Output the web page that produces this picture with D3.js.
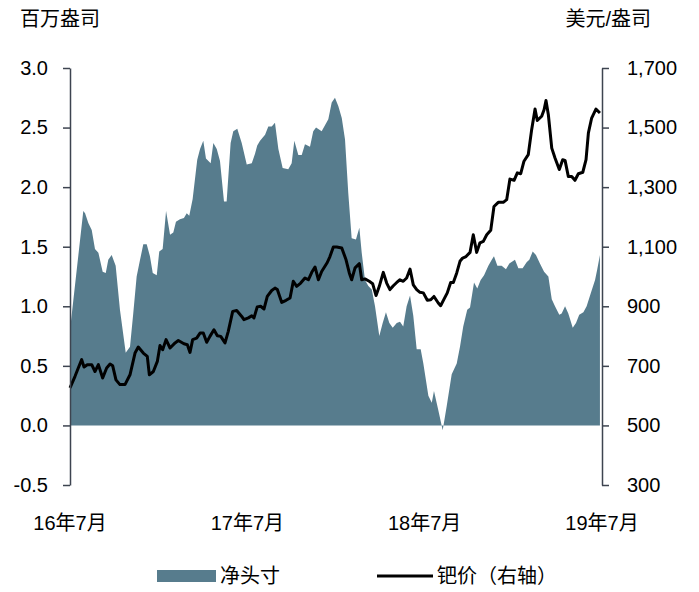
<!DOCTYPE html>
<html>
<head>
<meta charset="utf-8">
<script src="https://cdn.jsdelivr.net/npm/d3@7"></script>
<style>
  body { margin: 0; background: #fff; }
  text { font-family: "Liberation Sans", "Noto Sans CJK SC", sans-serif; }
</style>
</head>
<body>
<div id="chart"></div>
<script>
// months since 2016-07, net position (million oz)
const netPosition = [
  [0.00, 0.80], [0.90, 1.80], [1.02, 1.78], [1.24, 1.70], [1.47, 1.64], [1.69, 1.48],
  [1.92, 1.45], [2.21, 1.29], [2.42, 1.28], [2.59, 1.39], [2.82, 1.43], [3.09, 1.34],
  [3.38, 0.97], [3.77, 0.61], [4.06, 0.66], [4.28, 0.94], [4.51, 1.25], [4.74, 1.39],
  [4.96, 1.52], [5.19, 1.52], [5.41, 1.42], [5.60, 1.28], [5.87, 1.26], [6.04, 1.46],
  [6.27, 1.48], [6.50, 1.80], [6.77, 1.60], [6.99, 1.62], [7.17, 1.71], [7.44, 1.73],
  [7.71, 1.74], [7.90, 1.78], [8.07, 1.76], [8.30, 1.90], [8.61, 2.23], [8.80, 2.32],
  [9.02, 2.39], [9.20, 2.24], [9.52, 2.20], [9.70, 2.37], [9.93, 2.32], [10.15, 2.22],
  [10.42, 1.88], [10.60, 1.88], [10.87, 2.37], [11.05, 2.47], [11.32, 2.49], [11.62, 2.37],
  [11.96, 2.19], [12.30, 2.20], [12.52, 2.28], [12.67, 2.35], [12.86, 2.39], [13.20, 2.44],
  [13.42, 2.51], [13.65, 2.51], [13.87, 2.54], [14.10, 2.32], [14.39, 2.16], [14.77, 2.15],
  [15.00, 2.20], [15.18, 2.39], [15.45, 2.27], [15.68, 2.27], [15.90, 2.36], [16.24, 2.34],
  [16.46, 2.47], [16.65, 2.50], [17.03, 2.47], [17.48, 2.57], [17.71, 2.71], [17.93, 2.75],
  [18.16, 2.68], [18.39, 2.58], [18.61, 2.40], [18.83, 1.95], [19.06, 1.57], [19.35, 1.56],
  [19.58, 1.66], [19.74, 1.45], [19.96, 1.22], [20.19, 1.17], [20.42, 1.14], [20.64, 1.00],
  [20.93, 0.75], [21.16, 0.86], [21.38, 0.95], [21.61, 0.86], [21.84, 0.82], [22.11, 0.86],
  [22.33, 0.87], [22.55, 0.83], [22.78, 1.00], [23.01, 1.09], [23.23, 0.92], [23.46, 0.64],
  [23.73, 0.64], [23.91, 0.52], [24.25, 0.25], [24.48, 0.19], [24.63, 0.29], [24.92, 0.13],
  [25.22, -0.04], [25.49, 0.16], [25.83, 0.43], [26.17, 0.52], [26.39, 0.66], [26.61, 0.83],
  [26.88, 0.97], [27.07, 0.99], [27.34, 1.20], [27.56, 1.15], [27.79, 1.22], [28.02, 1.26],
  [28.31, 1.34], [28.54, 1.39], [28.69, 1.42], [28.92, 1.34], [29.21, 1.34], [29.50, 1.31],
  [29.73, 1.36], [30.11, 1.39], [30.34, 1.32], [30.63, 1.32], [30.90, 1.37], [31.08, 1.39],
  [31.31, 1.46], [31.53, 1.43], [31.80, 1.36], [32.08, 1.29], [32.37, 1.25], [32.60, 1.06],
  [32.82, 1.00], [33.11, 0.93], [33.27, 0.94], [33.50, 1.00], [33.72, 0.94], [34.02, 0.82],
  [34.24, 0.86], [34.46, 0.93], [34.74, 0.95], [34.96, 1.00], [35.24, 1.11], [35.53, 1.22],
  [35.68, 1.31], [35.86, 1.43]
];

// months since 2016-07, palladium price (USD/oz)
const palladiumPrice = [
  [0.00, 626], [0.34, 665], [0.56, 693], [0.79, 721], [0.95, 696], [1.17, 704],
  [1.47, 704], [1.69, 681], [1.92, 704], [2.21, 659], [2.48, 693], [2.71, 706],
  [2.89, 700], [3.11, 653], [3.38, 637], [3.72, 637], [4.06, 670], [4.40, 743],
  [4.62, 763], [4.96, 743], [5.23, 732], [5.37, 670], [5.64, 681], [5.91, 715],
  [6.09, 768], [6.27, 754], [6.50, 788], [6.77, 760], [7.11, 777], [7.33, 785],
  [7.71, 774], [7.94, 771], [8.12, 745], [8.30, 788], [8.57, 793], [8.80, 810],
  [9.02, 810], [9.25, 779], [9.47, 799], [9.74, 821], [9.97, 801], [10.20, 799],
  [10.49, 777], [10.71, 816], [11.01, 883], [11.28, 886], [11.62, 866], [11.77, 855],
  [12.07, 861], [12.30, 868], [12.45, 861], [12.67, 898], [12.90, 900], [13.13, 891],
  [13.35, 933], [13.65, 953], [13.87, 961], [14.03, 956], [14.33, 913], [14.62, 920],
  [14.89, 928], [15.11, 984], [15.34, 967], [15.61, 978], [15.90, 995], [16.13, 989],
  [16.36, 1014], [16.58, 1032], [16.81, 989], [17.03, 1017], [17.41, 1047], [17.59, 1067],
  [17.82, 1099], [18.05, 1099], [18.39, 1096], [18.68, 1056], [18.90, 1012], [19.06, 989],
  [19.29, 1029], [19.58, 1043], [19.74, 989], [19.96, 992], [20.25, 984], [20.48, 976],
  [20.71, 936], [20.93, 967], [21.20, 1014], [21.43, 978], [21.65, 956], [21.88, 969],
  [22.11, 980], [22.33, 989], [22.55, 984], [22.78, 995], [23.01, 1025], [23.23, 972],
  [23.46, 956], [23.68, 947], [23.91, 945], [24.18, 920], [24.41, 922], [24.63, 933],
  [24.92, 911], [25.08, 902], [25.31, 924], [25.53, 945], [25.76, 980], [25.94, 980],
  [26.17, 1012], [26.39, 1051], [26.57, 1062], [26.80, 1067], [27.07, 1081], [27.29, 1140],
  [27.52, 1081], [27.74, 1113], [27.97, 1118], [28.20, 1140], [28.47, 1155], [28.69, 1235],
  [28.98, 1249], [29.32, 1249], [29.55, 1258], [29.77, 1327], [30.05, 1323], [30.27, 1348],
  [30.50, 1345], [30.72, 1387], [31.01, 1409], [31.24, 1493], [31.47, 1562], [31.62, 1524],
  [31.92, 1538], [32.08, 1560], [32.21, 1591], [32.37, 1543], [32.60, 1431], [32.82, 1398],
  [33.11, 1359], [33.34, 1392], [33.50, 1390], [33.72, 1336], [33.95, 1336], [34.17, 1323],
  [34.40, 1345], [34.70, 1350], [34.92, 1392], [35.08, 1482], [35.30, 1532], [35.59, 1562],
  [35.86, 1549]
];

const xTickMonths = [0, 12, 24, 36];
const xTickLabels = ["16年7月", "17年7月", "18年7月", "19年7月"];
const leftTicks = [-0.5, 0, 0.5, 1.0, 1.5, 2.0, 2.5, 3.0];
const rightTicks = [300, 500, 700, 900, 1100, 1300, 1500, 1700];

const width = 699;
const height = 592;
const marginLeft = 70;
const marginRight = 97;
const marginTop = 68;
const plotBottom = 485;

const areaColor = "#577c8d";
const axisColor = "#3d4450";

const x = d3.scaleLinear()
    .domain([0, 36])
    .range([marginLeft, width - marginRight]);

const yLeft = d3.scaleLinear()
    .domain([-0.5, 3.0])
    .range([plotBottom, marginTop]);

const yRight = d3.scaleLinear()
    .domain([300, 1700])
    .range([plotBottom, marginTop]);

const svg = d3.select("#chart")
  .append("svg")
    .attr("width", width)
    .attr("height", height)
    .attr("viewBox", [0, 0, width, height]);

// net position area
svg.append("path")
    .datum(netPosition)
    .attr("fill", areaColor)
    .attr("d", d3.area()
        .x(d => x(d[0]))
        .y0(yLeft(0))
        .y1(d => yLeft(d[1])));

// price line
svg.append("path")
    .datum(palladiumPrice)
    .attr("fill", "none")
    .attr("stroke", "#000")
    .attr("stroke-width", 3)
    .attr("stroke-linejoin", "round")
    .attr("d", d3.line()
        .x(d => x(d[0]))
        .y(d => yRight(d[1])));

// left axis (plain hyphen for negatives, like the original)
const gLeft = svg.append("g")
    .attr("transform", `translate(${marginLeft},0)`)
    .call(d3.axisLeft(yLeft)
        .tickValues(leftTicks)
        .tickFormat(d => d.toFixed(1))
        .tickSize(7)
        .tickSizeOuter(0)
        .tickPadding(15));

// right axis
const gRight = svg.append("g")
    .attr("transform", `translate(${width - marginRight},0)`)
    .call(d3.axisRight(yRight)
        .tickValues(rightTicks)
        .tickFormat(d3.format(","))
        .tickSize(7)
        .tickSizeOuter(0)
        .tickPadding(18));

[gLeft, gRight].forEach(g => {
  g.select(".domain").attr("stroke", axisColor).attr("stroke-width", 1.5);
  g.selectAll(".tick line").attr("stroke", axisColor).attr("stroke-width", 1.5);
  g.selectAll("text")
      .attr("fill", "#000")
      .style("font-size", "20px")
      .style("font-family", "'Liberation Sans', 'Noto Sans CJK SC', sans-serif");
});

// x labels (no axis line)
svg.append("g")
  .selectAll("text")
  .data(xTickMonths)
  .join("text")
    .attr("x", d => x(d))
    .attr("y", 530)
    .attr("text-anchor", "middle")
    .style("font-size", "20px")
    .text((d, i) => xTickLabels[i]);

// unit titles
svg.append("text")
    .attr("x", 20)
    .attr("y", 26)
    .style("font-size", "20px")
    .text("百万盎司");

svg.append("text")
    .attr("x", 651)
    .attr("y", 26)
    .attr("text-anchor", "end")
    .style("font-size", "20px")
    .text("美元/盎司");

// legend
const legend = svg.append("g");
legend.append("rect")
    .attr("x", 157)
    .attr("y", 570)
    .attr("width", 59)
    .attr("height", 12)
    .attr("fill", areaColor);
legend.append("text")
    .attr("x", 220)
    .attr("y", 583)
    .style("font-size", "20px")
    .text("净头寸");
legend.append("line")
    .attr("x1", 377)
    .attr("x2", 433)
    .attr("y1", 576)
    .attr("y2", 576)
    .attr("stroke", "#000")
    .attr("stroke-width", 3);
legend.append("text")
    .attr("x", 437)
    .attr("y", 583)
    .style("font-size", "20px")
    .text("钯价（右轴）");
</script>
</body>
</html>
